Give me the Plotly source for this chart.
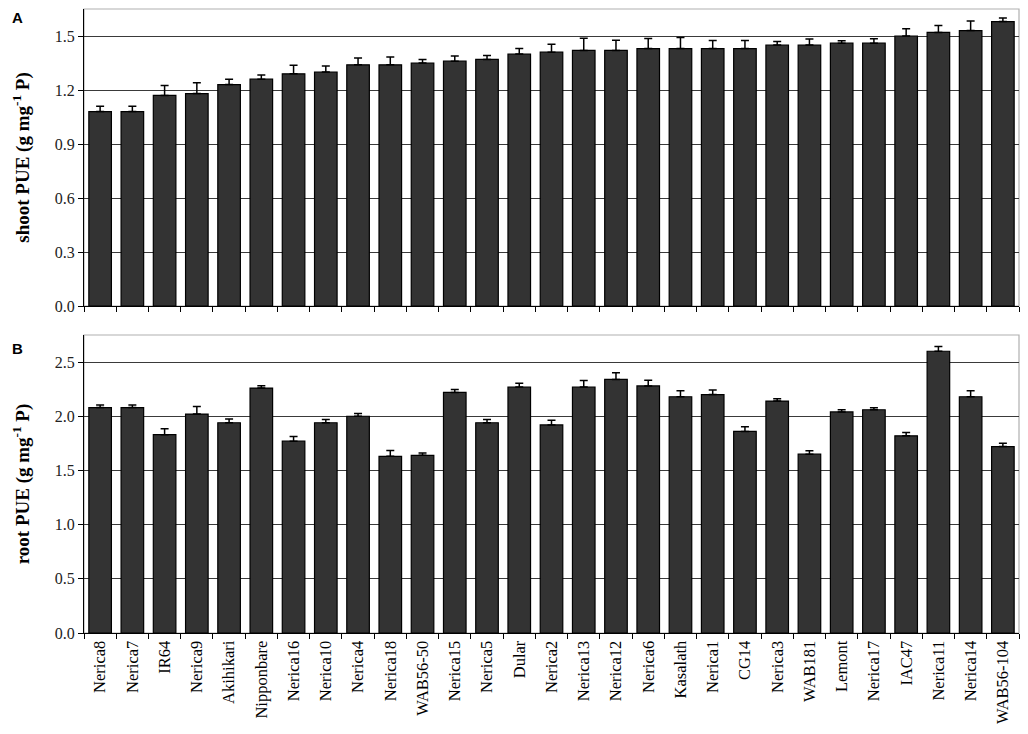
import plotly.graph_objects as go

# cultivars, ordered by shoot PUE
cultivars = ["Nerica8", "Nerica7", "IR64", "Nerica9", "Akihikari", "Nipponbare", "Nerica16",
             "Nerica10", "Nerica4", "Nerica18", "WAB56-50", "Nerica15", "Nerica5", "Dular",
             "Nerica2", "Nerica13", "Nerica12", "Nerica6", "Kasalath", "Nerica1", "CG14",
             "Nerica3", "WAB181", "Lemont", "Nerica17", "IAC47", "Nerica11", "Nerica14",
             "WAB56-104"]

shoot_pue = [1.08, 1.08, 1.17, 1.18, 1.23, 1.26, 1.29, 1.30, 1.34, 1.34, 1.35, 1.36, 1.37, 1.40,
             1.41, 1.42, 1.42, 1.43, 1.43, 1.43, 1.43, 1.45, 1.45, 1.46, 1.46, 1.50, 1.52, 1.53,
             1.58]
shoot_err = [0.03, 0.03, 0.055, 0.06, 0.03, 0.023, 0.047, 0.033, 0.038, 0.044, 0.02, 0.029, 0.022,
             0.03, 0.044, 0.067, 0.057, 0.056, 0.061, 0.045, 0.045, 0.02, 0.033, 0.014, 0.025,
             0.04, 0.038, 0.054, 0.02]

root_pue = [2.08, 2.08, 1.83, 2.02, 1.94, 2.26, 1.77, 1.94, 2.00, 1.63, 1.64, 2.22, 1.94, 2.27,
            1.92, 2.27, 2.34, 2.28, 2.18, 2.20, 1.86, 2.14, 1.65, 2.04, 2.06, 1.82, 2.60, 2.18,
            1.72]
root_err = [0.025, 0.025, 0.056, 0.07, 0.034, 0.022, 0.043, 0.031, 0.025, 0.053, 0.021, 0.027,
            0.031, 0.034, 0.043, 0.061, 0.061, 0.052, 0.056, 0.043, 0.043, 0.022, 0.031, 0.021,
            0.019, 0.031, 0.044, 0.056, 0.03]

shoot_ticks = [0.0, 0.3, 0.6, 0.9, 1.2, 1.5]
root_ticks = [0.0, 0.5, 1.0, 1.5, 2.0, 2.5]

# the page adds an 8px body margin, so the figure is 16px smaller than the window
W, H = 1012, 718
serif = "Liberation Serif, Times New Roman, serif"

fig = go.Figure()

for vals, errs, xa, ya in [(shoot_pue, shoot_err, "x", "y"), (root_pue, root_err, "x2", "y2")]:
    fig.add_trace(go.Bar(
        x=cultivars, y=vals, xaxis=xa, yaxis=ya, width=0.7,
        marker=dict(color="#333333", line=dict(color="black", width=1.2)),
        error_y=dict(type="data", array=errs, arrayminus=[0] * len(errs), symmetric=False,
                     color="black", thickness=1.5, width=4),
        showlegend=False,
    ))

xdom = [76 / W, 1011 / W]
ydom_top = [1 - 298 / H, 1 - 1 / H]
ydom_bot = [1 - 625 / H, 1 - 327 / H]

xcommon = dict(domain=xdom, type="category", showline=True, linecolor="black", linewidth=1.2,
               ticks="outside", ticklen=5, tickcolor="black", tickson="boundaries",
               showgrid=False, tickangle=-90, automargin=False,
               tickfont=dict(family=serif, size=16.5, color="black"))
ycommon = dict(showline=True, linecolor="black", linewidth=1.2, ticks="outside", ticklen=5,
               tickcolor="black", showgrid=True, gridcolor="#3a3a3a", gridwidth=1,
               zeroline=False, automargin=False,
               tickfont=dict(family=serif, size=16, color="#222222"),
               title_font=dict(family=serif, size=19, color="black"), title_standoff=20)

fig.update_layout(
    width=W, height=H,
    margin=dict(l=0, r=0, t=0, b=0),
    plot_bgcolor="white", paper_bgcolor="white",
    bargap=0.3,
    xaxis=dict(xcommon, anchor="y", showticklabels=False),
    yaxis=dict(ycommon, domain=ydom_top, anchor="x", range=[0, 1.65],
               tickvals=shoot_ticks, tickformat=".1f",
               title_text="<b>shoot PUE (g mg<sup>-1</sup> P)</b>"),
    xaxis2=dict(xcommon, anchor="y2"),
    yaxis2=dict(ycommon, domain=ydom_bot, anchor="x2", range=[0, 2.75],
                tickvals=root_ticks, tickformat=".1f",
                title_text="<b>root PUE (g mg<sup>-1</sup> P)</b>"),
)

# light grey frame on top and right of each panel
for xr, yr in [("x domain", "y domain"), ("x2 domain", "y2 domain")]:
    fig.add_shape(type="rect", xref=xr, yref=yr, x0=0, x1=1, y0=0, y1=1,
                  line=dict(color="#b0b0b0", width=1.2), layer="below")

for label, y in [("A", 9), ("B", 341)]:
    fig.add_annotation(text="<b>%s</b>" % label, xref="paper", yref="paper",
                       x=9 / W, y=1 - y / H, xanchor="center", yanchor="middle",
                       showarrow=False,
                       font=dict(family="Liberation Sans, Arial, sans-serif", size=15, color="black"))

fig.write_html("out.html")
